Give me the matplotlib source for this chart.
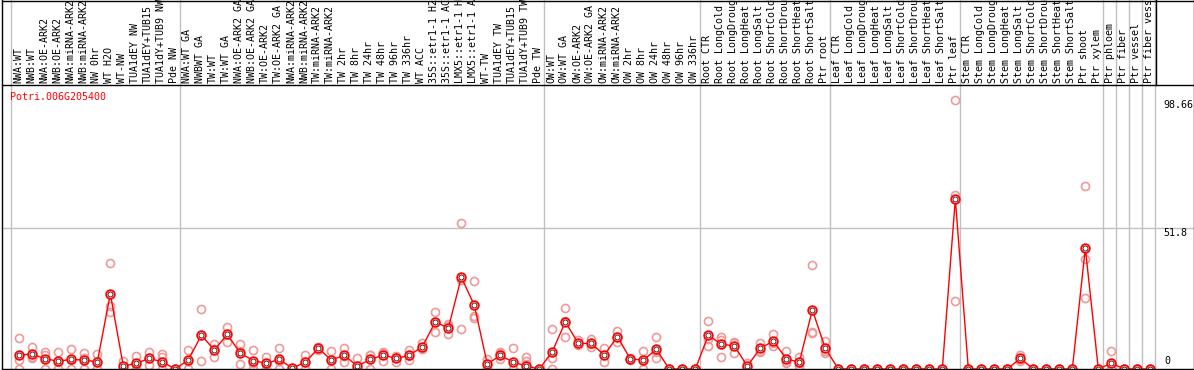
import matplotlib
matplotlib.use("Agg")
import matplotlib.pyplot as plt
from matplotlib.lines import Line2D
import matplotlib.transforms as mtransforms

gene = "Potri.006G205400"

labels = [
    "NWA:WT", "NWB:WT", "NWA:OE-ARK2", "NWB:OE-ARK2", "NWA:miRNA-ARK2", "NWB:miRNA-ARK2",
    "NW 0hr", "WT H2O", "WT-NW", "TUA1dEY NW", "TUA1dEY+TUB15", "TUA1dY+TUB9 NW", "Pde NW",
    "NWA:WT GA", "NWBWT GA", "TW:WT", "TW:WT GA", "NWA:OE-ARK2 GA", "NWB:OE-ARK2 GA",
    "TW:OE-ARK2", "TW:OE-ARK2 GA", "NWA:miRNA-ARK2", "NWB:miRNA-ARK2", "TW:miRNA-ARK2",
    "TW:miRNA-ARK2", "TW 2hr", "TW 8hr", "TW 24hr", "TW 48hr", "TW 96hr", "TW 336hr",
    "WT ACC", "35S::etr1-1 H2O", "35S::etr1-1 ACC", "LMX5::etr1-1 H2O", "LMX5::etr1-1 ACC",
    "WT-TW", "TUA1dEY TW", "TUA1dEY+TUB15", "TUA1dY+TUB9 TW", "Pde TW",
    "OW:WT", "OW:WT GA", "OW:OE-ARK2", "OW:OE-ARK2 GA", "OW:miRNA-ARK2", "OW:miRNA-ARK2",
    "OW 2hr", "OW 8hr", "OW 24hr", "OW 48hr", "OW 96hr", "OW 336hr",
    "Root CTR", "Root LongCold", "Root LongDrought", "Root LongHeat", "Root LongSalt",
    "Root ShortCold", "Root ShortDrought", "Root ShortHeat", "Root ShortSalt", "Ptr root",
    "Leaf CTR", "Leaf LongCold", "Leaf LongDrought", "Leaf LongHeat", "Leaf LongSalt",
    "Leaf ShortCold", "Leaf ShortDrought", "Leaf ShortHeat", "Leaf ShortSalt", "Ptr leaf",
    "Stem CTR", "Stem LongCold", "Stem LongDrought", "Stem LongHeat", "Stem LongSalt",
    "Stem ShortCold", "Stem ShortDrought", "Stem ShortHeat", "Stem ShortSalt", "Ptr shoot",
    "Ptr xylem", "Ptr phloem", "Ptr fiber", "Ptr vessel", "Ptr fiber vessel",
]

mean_vals = [
    5.1, 5.5, 3.7, 2.9, 3.5, 3.3, 2.6, 27.6, 1.1, 2.1, 3.9, 2.6, 0.0,
    3.3, 12.4, 7.0, 12.7, 5.8, 3.1, 2.1, 3.5, 0.3, 2.5, 7.6, 3.3, 5.0, 1.1, 3.5, 5.1,
    3.9, 5.0, 8.2, 17.3, 15.0, 33.7, 23.4, 1.8, 5.0, 2.5, 1.1, 0.0,
    6.4, 17.3, 9.4, 9.4, 5.1, 11.9, 3.7, 3.3, 7.2, 0.0, 0.0, 0.0,
    12.4, 9.1, 8.5, 1.1, 7.6, 10.3, 3.7, 2.5, 21.7, 7.6,
    0.0, 0.0, 0.0, 0.0, 0.0, 0.0, 0.0, 0.0, 0.0, 62.5,
    0.0, 0.0, 0.0, 0.0, 3.9, 0.0, 0.0, 0.0, 0.0, 44.4, 0.0,
    2.1, 0.0, 0.0, 0.0,
]

rep1 = [
    11.3, 8.0, 6.1, 6.1, 7.3, 5.8, 5.4, 38.8, 3.1, 4.8, 6.2, 5.6, 0.0,
    7.0, 21.9, 9.2, 15.6, 9.2, 7.0, 4.3, 7.6, 0.5, 5.0, 8.0, 6.5, 7.7, 3.9, 5.3, 6.2,
    4.8, 7.0, 9.4, 21.0, 16.5, 53.7, 32.4, 3.5, 6.3, 7.6, 4.5, 0.0,
    14.7, 22.3, 10.5, 10.9, 7.6, 14.1, 4.0, 6.5, 11.6, 0.0, 0.0, 0.0,
    17.5, 11.9, 10.0, 2.3, 9.7, 12.9, 6.6, 4.3, 38.2, 10.3,
    0.0, 0.0, 0.0, 0.0, 0.0, 0.0, 0.0, 0.0, 0.0, 98.66,
    0.0, 0.0, 0.0, 0.0, 5.1, 0.0, 0.0, 0.0, 0.0, 67.2, 0.0,
    6.6, 0.0, 0.0, 0.0,
]

rep2 = [
    3.3, 4.3, 5.0, 2.5, 3.2, 4.2, 2.4, 23.2, 0.0, 1.5, 4.0, 4.5, 0.0,
    3.0, 12.5, 7.2, 12.7, 6.5, 2.3, 2.0, 3.0, 0.3, 2.5, 7.6, 3.4, 4.9, 0.0, 5.0, 6.0,
    4.5, 4.8, 8.0, 17.3, 15.8, 32.7, 19.5, 2.0, 5.8, 0.0, 3.0, 0.0,
    4.2, 17.5, 9.0, 9.2, 5.0, 11.8, 3.6, 3.4, 6.1, 0.0, 0.0, 0.0,
    11.2, 10.7, 9.5, 0.8, 6.7, 9.5, 2.4, 2.1, 13.7, 6.7,
    0.0, 0.0, 0.0, 0.0, 0.0, 0.0, 0.0, 0.0, 0.0, 63.8,
    0.0, 0.0, 0.0, 0.0, 3.6, 0.0, 0.0, 0.0, 0.0, 40.4, 0.0,
    0.0, 0.0, 0.0, 0.0,
]

rep3 = [
    0.0, 4.0, 0.0, 0.0, 0.0, 0.0, 0.0, 21.1, 0.0, 0.0, 1.5, 0.0, 0.0,
    0.0, 2.9, 4.5, 9.8, 1.7, 0.0, 0.0, 0.0, 0.0, 0.0, 7.0, 0.0, 2.5, 0.0, 0.0, 2.9,
    2.5, 3.3, 7.2, 13.6, 12.7, 14.7, 18.8, 0.0, 3.5, 0.0, 2.0, 0.0,
    0.0, 11.9, 8.7, 8.2, 2.7, 9.8, 3.4, 0.0, 3.9, 0.0, 0.0, 0.0,
    8.5, 4.5, 6.0, 0.3, 6.4, 8.5, 2.1, 1.1, 13.1, 5.8,
    0.0, 0.0, 0.0, 0.0, 0.0, 0.0, 0.0, 0.0, 0.0, 25.0,
    0.0, 0.0, 0.0, 0.0, 3.0, 0.0, 0.0, 0.0, 0.0, 26.0, 0.0,
    0.0, 0.0, 0.0, 0.0,
]

group_bounds = [0, 13, 41, 53, 63, 73, 84, 85, 86, 87, 88]
y_ticks = [98.66, 51.8, 0]
y_tick_labels = ["98.66", "51.8", "0"]

W, H = 1194, 370
MONO = "DejaVu Sans Mono"
FS = 7.2

def fx(px):
    return px / W

def fy(py):
    return 1 - py / H

fig = plt.figure(figsize=(W / 100, H / 100), dpi=100)
fig.patch.set_facecolor("white")

ax_left, ax_right, ax_top, ax_bot = 11, 1155, 85, 369
ax = fig.add_axes([fx(ax_left), fy(ax_bot), fx(ax_right) - fx(ax_left), fy(ax_top) - fy(ax_bot)])
n = len(labels)
ax.set_xlim(0, n)
ax.set_ylim(0, 104.3)
ax.axis("off")

ax_h = ax_bot - ax_top
ax_w = ax_right - ax_left
ytop_frac = ax_bot / ax_h  # reach figure top

# vertical separators (gray)
for b in group_bounds:
    ax.axvline(b, ymin=0, ymax=ytop_frac, color="#c0c0c0", lw=1.0, clip_on=False, zorder=1)

# horizontal grid line at 51.8
ax.axhline(51.8, xmin=(2 - ax_left) / ax_w, xmax=(W - ax_left) / ax_w,
           color="#c0c0c0", lw=1.0, clip_on=False, zorder=1)

xs = [i + 0.64 for i in range(n)]

# replicates
for rep in (rep1, rep2, rep3):
    ax.plot(xs, rep, linestyle="none", marker="o", ms=5.8, mfc="none",
            mec="#ee9a9a", mew=1.2, zorder=2)

# mean line
ax.plot(xs, mean_vals, color="#ff0000", lw=1.0, zorder=3)
ax.plot(xs, mean_vals, linestyle="none", marker="o", ms=6.2, mfc="white",
        mec="#ff0000", mew=1.3, zorder=4)
ax.plot(xs, mean_vals, linestyle="none", marker="o", ms=3.6, mfc="none",
        mec="#300000", mew=0.6, zorder=5)

# rotated sample labels
trans = mtransforms.blended_transform_factory(ax.transData, ax.transAxes)
lab_y = (ax_bot - 83) / ax_h
for i, lab in enumerate(labels):
    ax.text(i + 0.54, lab_y, lab, rotation=90, ha="center", va="bottom",
            family=MONO, fontsize=FS, color="black", transform=trans, clip_on=False)

# right-side value labels
trans_r = mtransforms.blended_transform_factory(fig.transFigure, ax.transData)
for v, t in zip(y_ticks, y_tick_labels):
    if v == 0:
        ax.text(fx(1164), 1.0, t, ha="left", va="bottom", family=MONO, fontsize=FS,
                transform=trans_r, clip_on=False)
    else:
        ax.text(fx(1163), v, t, ha="left", va="top", family=MONO, fontsize=FS,
                transform=trans_r, clip_on=False)

# gene name
fig.text(fx(10), fy(97.5), gene, color="#ff0000", ha="left", va="center",
         family=MONO, fontsize=FS)

# black frame lines
def fline(x0, y0, x1, y1, color="black", lw=1.0):
    fig.add_artist(Line2D([fx(x0), fx(x1)], [fy(y0), fy(y1)], color=color, lw=lw,
                          transform=fig.transFigure, zorder=10))

fline(2, 0.5, W - 0.5, 0.5)
fline(2, 85, W - 0.5, 85)
fline(2, 369, W - 0.5, 369)
fline(2, 0, 2, 369)
fline(W - 0.5, 0, W - 0.5, 369)
fline(1155.5, 0, 1155.5, 85)

fig.savefig("out.png", dpi=100, facecolor="white")
